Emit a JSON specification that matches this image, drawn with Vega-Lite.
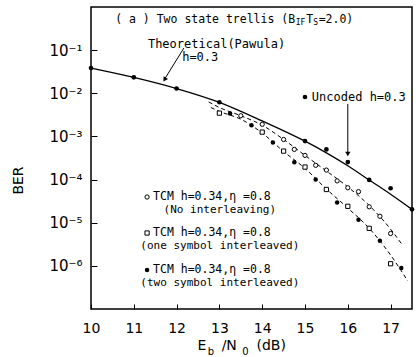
{
  "$schema": "https://vega.github.io/schema/vega-lite/v6.json",
  "width": 321,
  "height": 302,
  "autosize": "none",
  "padding": {"left": 91, "top": 7, "right": 8, "bottom": 48},
  "config": {"view": {"stroke": "black", "strokeWidth": 1.5}, "font": "DejaVu Sans", "background": "white"},
  "datasets": {
    "theory": [
      {"x": 10, "ber": 3.85e-2}, {"x": 11, "ber": 2.34e-2}, {"x": 12, "ber": 1.29e-2},
      {"x": 13, "ber": 6.17e-3}, {"x": 14, "ber": 2.29e-3}, {"x": 15, "ber": 7.76e-4},
      {"x": 15.5, "ber": 4.17e-4}, {"x": 16, "ber": 2.09e-4}, {"x": 16.5, "ber": 9.77e-5},
      {"x": 17, "ber": 4.57e-5}, {"x": 17.5, "ber": 2.04e-5}
    ],
    "uncoded": [
      {"x": 10, "ber": 3.85e-2}, {"x": 11, "ber": 2.34e-2}, {"x": 12, "ber": 1.29e-2},
      {"x": 13, "ber": 6.2e-3}, {"x": 15, "ber": 7.8e-4}, {"x": 15.5, "ber": 5.0e-4},
      {"x": 16, "ber": 2.55e-4}, {"x": 16.5, "ber": 9.8e-5}, {"x": 17, "ber": 6.3e-5},
      {"x": 17.5, "ber": 2.04e-5}, {"x": 15.0, "ber": 8.2e-3}
    ],
    "no_il": [
      {"x": 13.5, "ber": 3.02e-3}, {"x": 14.0, "ber": 1.91e-3}, {"x": 14.5, "ber": 8.51e-4},
      {"x": 14.75, "ber": 5.01e-4}, {"x": 15.0, "ber": 3.63e-4}, {"x": 15.25, "ber": 2.14e-4},
      {"x": 15.5, "ber": 1.66e-4}, {"x": 15.75, "ber": 9.33e-5}, {"x": 16.0, "ber": 6.46e-5},
      {"x": 16.25, "ber": 5.25e-5}, {"x": 16.5, "ber": 2.34e-5}, {"x": 16.75, "ber": 1.41e-5},
      {"x": 17.0, "ber": 5.62e-6}, {"x": 11.31, "ber": 3.94e-5}
    ],
    "one_il": [
      {"x": 13.0, "ber": 3.47e-3}, {"x": 14.0, "ber": 1.26e-3}, {"x": 14.5, "ber": 4.57e-4},
      {"x": 15.0, "ber": 1.95e-4}, {"x": 15.5, "ber": 5.89e-5}, {"x": 16.0, "ber": 2.4e-5},
      {"x": 16.5, "ber": 7.41e-6}, {"x": 17.0, "ber": 1.12e-6}, {"x": 11.31, "ber": 5.77e-6}
    ],
    "two_il": [
      {"x": 13.25, "ber": 3.39e-3}, {"x": 13.75, "ber": 1.82e-3}, {"x": 14.25, "ber": 7.24e-4},
      {"x": 14.75, "ber": 2.51e-4}, {"x": 15.25, "ber": 1.0e-4}, {"x": 15.75, "ber": 2.95e-5},
      {"x": 16.25, "ber": 1.17e-5}, {"x": 16.75, "ber": 3.8e-6}, {"x": 17.25, "ber": 8.91e-7},
      {"x": 11.31, "ber": 8.01e-7}
    ],
    "fit_upper": [
      {"x": 12.75, "ber": 6.31e-3}, {"x": 13.0, "ber": 4.68e-3}, {"x": 13.5, "ber": 3.02e-3},
      {"x": 14.0, "ber": 1.82e-3}, {"x": 14.5, "ber": 8.51e-4}, {"x": 15.0, "ber": 3.63e-4},
      {"x": 15.5, "ber": 1.58e-4}, {"x": 16.0, "ber": 6.76e-5}, {"x": 16.5, "ber": 2.51e-5},
      {"x": 17.0, "ber": 7.08e-6}, {"x": 17.25, "ber": 3.31e-6}
    ],
    "fit_lower": [
      {"x": 12.8, "ber": 4.68e-3}, {"x": 13.0, "ber": 3.8e-3}, {"x": 13.5, "ber": 2.51e-3},
      {"x": 14.0, "ber": 1.2e-3}, {"x": 14.5, "ber": 4.47e-4}, {"x": 15.0, "ber": 1.82e-4},
      {"x": 15.5, "ber": 6.03e-5}, {"x": 16.0, "ber": 2.19e-5}, {"x": 16.5, "ber": 7.41e-6},
      {"x": 17.0, "ber": 1.78e-6}, {"x": 17.4, "ber": 4.47e-7}
    ]
  },
  "encoding": {
    "x": {
      "field": "x", "type": "quantitative",
      "scale": {"domain": [10, 17.5], "nice": false, "zero": false},
      "axis": {
        "values": [10, 11, 12, 13, 14, 15, 16, 17], "tickSize": -5, "labelPadding": 17,
        "domain": false, "grid": false, "labelFontSize": 14, "labelColor": "black",
        "tickColor": "black", "title": null, "labelFlush": false, "labelFont": "DejaVu Sans"
      }
    },
    "y": {
      "field": "ber", "type": "quantitative",
      "scale": {"type": "log", "domain": [1e-7, 1], "nice": false},
      "axis": {
        "values": [0.1, 0.01, 0.001, 0.0001, 0.00001, 0.000001],
        "labelExpr": "'10⁻' + substring('⁰¹²³⁴⁵⁶⁷', -round(log(datum.value)/LN10), -round(log(datum.value)/LN10) + 1)",
        "tickSize": -6, "labelPadding": 15, "domain": false, "grid": false,
        "labelFontSize": 15, "labelColor": "black", "tickColor": "black", "labelFont": "DejaVu Sans",
        "title": "BER", "titleFontSize": 14, "titleFontWeight": "normal", "titleColor": "black",
        "titleX": -73, "titleY": 173, "titleAlign": "center", "titleBaseline": "middle", "titleAngle": -90,
        "titleFont": "DejaVu Sans"
      }
    }
  },
  "layer": [
    {"data": {"name": "theory"}, "mark": {"type": "line", "color": "black", "strokeWidth": 1.3, "interpolate": "monotone"}, "encoding": {}},
    {"data": {"name": "fit_upper"}, "mark": {"type": "line", "color": "black", "strokeWidth": 1, "strokeDash": [4, 3], "interpolate": "monotone"}, "encoding": {}},
    {"data": {"name": "fit_lower"}, "mark": {"type": "line", "color": "black", "strokeWidth": 1, "strokeDash": [4, 3], "interpolate": "monotone"}, "encoding": {}},
    {"data": {"name": "uncoded"}, "mark": {"type": "point", "shape": "circle", "filled": true, "color": "black", "size": 22, "opacity": 1}},
    {"data": {"name": "no_il"}, "mark": {"type": "point", "shape": "circle", "filled": true, "fill": "white", "stroke": "black", "strokeWidth": 1, "size": 18, "opacity": 1}},
    {"data": {"name": "one_il"}, "mark": {"type": "point", "shape": "square", "filled": true, "fill": "white", "stroke": "black", "strokeWidth": 1, "size": 18, "opacity": 1}},
    {"data": {"name": "two_il"}, "mark": {"type": "point", "shape": "circle", "filled": true, "color": "black", "size": 20, "opacity": 1}},
    {
      "data": {"values": [{"x": 12.17, "ber": 0.112, "x2": 11.71, "ber2": 0.0205}]},
      "mark": {"type": "rule", "color": "black", "strokeWidth": 1},
      "encoding": {"x2": {"field": "x2"}, "y2": {"field": "ber2"}}
    },
    {
      "data": {"values": [{"x": 11.72, "ber": 0.0209}]},
      "mark": {"type": "point", "shape": "triangle-up", "angle": 212, "filled": true, "color": "black", "size": 28, "opacity": 1}
    },
    {
      "data": {"values": [{"x": 16.0, "ber": 5.64e-3, "ber2": 3.7e-4}]},
      "mark": {"type": "rule", "color": "black", "strokeWidth": 1},
      "encoding": {"y2": {"field": "ber2"}}
    },
    {
      "data": {"values": [{"x": 16.0, "ber": 3.92e-4}]},
      "mark": {"type": "point", "shape": "triangle-down", "filled": true, "color": "black", "size": 28, "opacity": 1}
    },
    {
      "data": {"values": [{"x": 14.77, "ber": 0.5, "text": "( a ) Two state trellis (B"}]},
      "mark": {"type": "text", "align": "right", "baseline": "middle", "font": "DejaVu Sans Mono", "fontSize": 11.5, "color": "black"},
      "encoding": {"text": {"field": "text"}}
    },
    {
      "data": {"values": [{"x": 14.77, "ber": 0.5, "text": "IF"}]},
      "mark": {"type": "text", "align": "left", "baseline": "middle", "font": "DejaVu Sans Mono", "fontSize": 8, "dx": 0.5, "dy": 3, "color": "black"},
      "encoding": {"text": {"field": "text"}}
    },
    {
      "data": {"values": [{"x": 14.77, "ber": 0.5, "text": "T"}]},
      "mark": {"type": "text", "align": "left", "baseline": "middle", "font": "DejaVu Sans Mono", "fontSize": 11.5, "dx": 11, "color": "black"},
      "encoding": {"text": {"field": "text"}}
    },
    {
      "data": {"values": [{"x": 14.77, "ber": 0.5, "text": "S"}]},
      "mark": {"type": "text", "align": "left", "baseline": "middle", "font": "DejaVu Sans Mono", "fontSize": 8, "dx": 18, "dy": 3, "color": "black"},
      "encoding": {"text": {"field": "text"}}
    },
    {
      "data": {"values": [{"x": 14.77, "ber": 0.5, "text": "=2.0)"}]},
      "mark": {"type": "text", "align": "left", "baseline": "middle", "font": "DejaVu Sans Mono", "fontSize": 11.5, "dx": 23.5, "color": "black"},
      "encoding": {"text": {"field": "text"}}
    },
    {
      "data": {"values": [
        {"x": 11.33, "ber": 0.139, "text": "Theoretical(Pawula)"},
        {"x": 12.13, "ber": 0.0693, "text": "h=0.3"},
        {"x": 15.16, "ber": 8.2e-3, "text": "Uncoded h=0.3"}
      ]},
      "mark": {"type": "text", "align": "left", "baseline": "middle", "font": "DejaVu Sans Mono", "fontSize": 12, "color": "black"},
      "encoding": {"text": {"field": "text"}}
    },
    {
      "data": {"values": [
        {"x": 11.45, "ber": 3.94e-5, "text": "TCM  h=0.34,η =0.8"},
        {"x": 11.45, "ber": 5.77e-6, "text": "TCM  h=0.34,η =0.8"},
        {"x": 11.45, "ber": 8.01e-7, "text": "TCM  h=0.34,η =0.8"}
      ]},
      "mark": {"type": "text", "align": "left", "baseline": "middle", "font": "DejaVu Sans Mono", "fontSize": 11.5, "color": "black"},
      "encoding": {"text": {"field": "text"}}
    },
    {
      "data": {"values": [
        {"x": 13.01, "ber": 1.97e-5, "text": "(No interleaving)"},
        {"x": 13.01, "ber": 2.88e-6, "text": "(one symbol interleaved)"},
        {"x": 13.01, "ber": 4.0e-7, "text": "(two symbol interleaved)"}
      ]},
      "mark": {"type": "text", "align": "center", "baseline": "middle", "font": "DejaVu Sans Mono", "fontSize": 11, "color": "black"},
      "encoding": {"text": {"field": "text"}}
    },
    {
      "data": {"values": [
        {"x": 12.59, "ber": 1.38e-8, "text": "E"},
        {"x": 13.23, "ber": 1.38e-8, "text": "/N"},
        {"x": 14.21, "ber": 1.38e-8, "text": "(dB)"}
      ]},
      "mark": {"type": "text", "align": "center", "baseline": "middle", "font": "DejaVu Sans", "fontSize": 14, "color": "black"},
      "encoding": {"text": {"field": "text"}}
    },
    {
      "data": {"values": [
        {"x": 12.8, "ber": 1.0e-8, "text": "b"},
        {"x": 13.61, "ber": 1.0e-8, "text": "0"}
      ]},
      "mark": {"type": "text", "align": "center", "baseline": "middle", "font": "DejaVu Sans", "fontSize": 10, "color": "black"},
      "encoding": {"text": {"field": "text"}}
    }
  ]
}
